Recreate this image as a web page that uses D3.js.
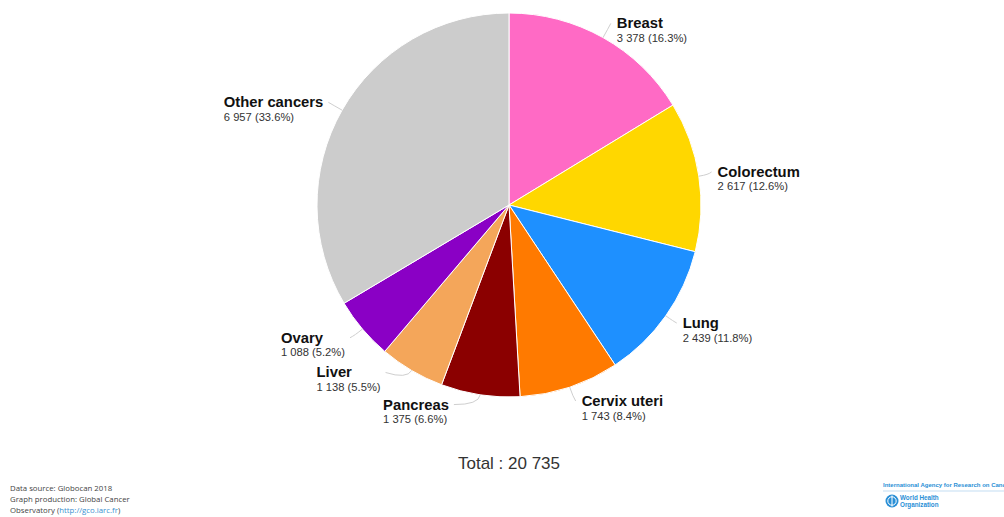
<!DOCTYPE html>
<html><head><meta charset="utf-8">
<script src="https://cdn.jsdelivr.net/npm/d3@7"></script>
<style>
html,body{margin:0;padding:0;background:#fff;}
svg{display:block;font-family:"Liberation Sans",Arial,sans-serif;}
</style></head>
<body>
<svg id="chart" width="1004" height="517"></svg>
<script>
// ---- data ----
const categories = ["Breast","Colorectum","Lung","Cervix uteri","Pancreas","Liver","Ovary","Other cancers"];
const values = [3378, 2617, 2439, 1743, 1375, 1138, 1088, 6957];
const valueLabels = ["3 378 (16.3%)","2 617 (12.6%)","2 439 (11.8%)","1 743 (8.4%)","1 375 (6.6%)","1 138 (5.5%)","1 088 (5.2%)","6 957 (33.6%)"];
const colors = ["#ff6ac5","#ffd700","#1e90ff","#ff7a00","#8b0000","#f4a65a","#8a00c5","#cccccc"];
const totalLabel = "Total : 20 735";

// ---- layout ----
const W = 1004, H = 517, cx = 509, cy = 205, r = 192;
// label tweaks [dx, dy] relative to the computed outer anchor
const labelNudge = [[3,5],[-3,-1],[-1,-5.5],[5,-7],[-28,-12],[-20,-17],[-0.6,-5.5],[0.4,3]];

const svg = d3.select("#chart");
const g = svg.append("g").attr("transform", `translate(${cx},${cy})`);

const pie = d3.pie().sort(null).value(d => d)(values);
const arc = d3.arc().innerRadius(0).outerRadius(r);

g.selectAll("path.slice").data(pie).join("path")
  .attr("class","slice")
  .attr("d", arc)
  .attr("fill", (d,i) => colors[i])
  .attr("stroke", "#fff")
  .attr("stroke-width", 1)
  .attr("stroke-linejoin","round");

const R = r + 22;
pie.forEach((d, i) => {
  const a = (d.startAngle + d.endAngle) / 2;
  const sin = Math.sin(a), cos = Math.cos(a);
  const right = sin >= 0;
  const ax = R * sin + labelNudge[i][0];
  const ay = -R * cos + labelNudge[i][1];
  // connector
  const p0 = [r * sin, -r * cos];
  const p1 = [(r + 10) * sin, -(r + 10) * cos];
  const endX = right ? ax - 6 : ax + 5;
  const endY = ay;
  g.append("path")
    .attr("d", `M${p0[0]},${p0[1]} Q${p1[0]},${p1[1]} ${endX},${endY}`)
    .attr("fill","none").attr("stroke","#cfcfcf").attr("stroke-width",1);

  const lg = g.append("g");
  const t1 = lg.append("text").attr("x", 0).attr("y", 5)
    .attr("font-size", 14.8).attr("font-weight", "bold").attr("fill", "#111")
    .text(categories[i]);
  const t2 = lg.append("text").attr("x", 0).attr("y", 18.5)
    .attr("font-size", 11.2).attr("fill", "#333")
    .text(valueLabels[i]);
  const w = Math.max(t1.node().getComputedTextLength(), t2.node().getComputedTextLength());
  const lx = right ? ax : ax - w;
  lg.attr("transform", `translate(${lx},${ay})`);
});

svg.append("text").attr("x", cx).attr("y", 469).attr("text-anchor","middle")
  .attr("font-size", 17).attr("fill","#333").text(totalLabel);

// footer
const foot = svg.append("text").attr("x", 10).attr("font-size", 7.8).attr("fill","#444")
  .attr("font-family","'Open Sans','DejaVu Sans',sans-serif");
foot.append("tspan").attr("x",10).attr("y",491).text("Data source: Globocan 2018");
foot.append("tspan").attr("x",10).attr("y",502).text("Graph production: Global Cancer");
const l3 = foot.append("tspan").attr("x",10).attr("y",513);
l3.append("tspan").text("Observatory (");
l3.append("tspan").attr("fill","#3a8fd0").text("http://gco.iarc.fr");
l3.append("tspan").text(")");

// logo area
svg.append("text").attr("x", 883).attr("y", 487).attr("font-size", 6.0).attr("fill","#2a8fd6")
  .attr("font-weight","bold").text("International Agency for Research on Cancer");
svg.append("line").attr("x1",883).attr("x2",1004).attr("y1",491).attr("y2",491).attr("stroke","#9cc7ea").attr("stroke-width",0.6);
const lg2 = svg.append("g").attr("transform","translate(892,501)");
lg2.append("circle").attr("r",6.5).attr("fill","#2a8fd6");
lg2.append("circle").attr("r",4.2).attr("fill","none").attr("stroke","#fff").attr("stroke-width",1);
lg2.append("line").attr("x1",0).attr("x2",0).attr("y1",-5.5).attr("y2",5.5).attr("stroke","#fff").attr("stroke-width",1);
svg.append("text").attr("x", 900).attr("y", 500).attr("font-size", 6.3).attr("fill","#2a8fd6").attr("font-weight","bold").text("World Health");
svg.append("text").attr("x", 900).attr("y", 507).attr("font-size", 6.3).attr("fill","#2a8fd6").attr("font-weight","bold").text("Organization");
</script>
</body></html>
